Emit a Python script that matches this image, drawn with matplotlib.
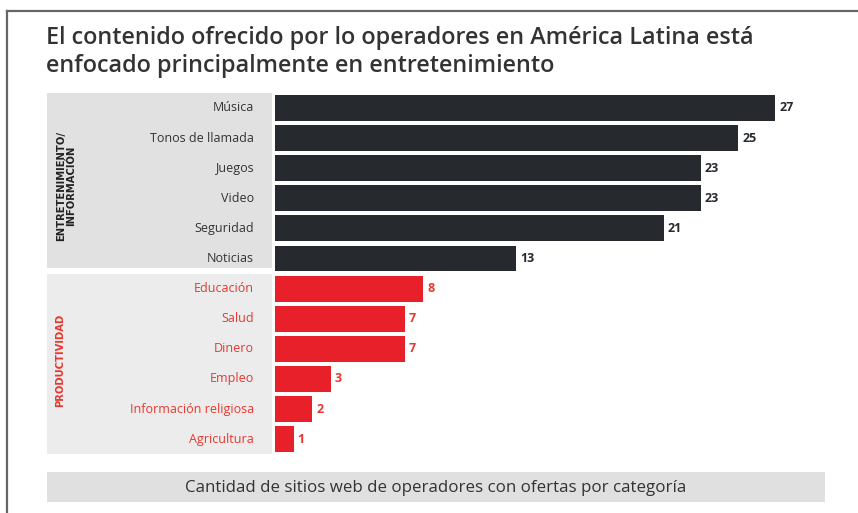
import matplotlib
matplotlib.use("Agg")
import matplotlib.pyplot as plt
from matplotlib.patches import Rectangle

# ---- data ----
ent_categories = ["Música", "Tonos de llamada", "Juegos", "Video", "Seguridad", "Noticias"]
ent_values = [27, 25, 23, 23, 21, 13]
prod_categories = ["Educación", "Salud", "Dinero", "Empleo", "Información religiosa", "Agricultura"]
prod_values = [8, 7, 7, 3, 2, 1]
group_ent_label = "ENTRETENIMIENTO/\nINFORMACIÓN"
group_prod_label = "PRODUCTIVIDAD"
title_lines = ["El contenido ofrecido por lo operadores en América Latina está",
               "enfocado principalmente en entretenimiento"]
footer = "Cantidad de sitios web de operadores con ofertas por categoría"

DARK = "#26292d"
RED = "#e8202a"
RED_TXT = "#e8372f"
TXT = "#333333"

plt.rcParams['font.family'] = ['Open Sans', 'DejaVu Sans']

W, H = 858, 513
fig = plt.figure(figsize=(W / 100, H / 100), dpi=100)
fig.patch.set_facecolor("white")

def fx(px):
    return px / W

def fy(py):
    return 1 - py / H

# frame lines (top and left)
fig.add_artist(plt.Line2D([fx(7), fx(858)], [fy(11), fy(11)], color="#666666", lw=1.6))
fig.add_artist(plt.Line2D([fx(7), fx(7)], [fy(11), fy(513)], color="#666666", lw=1.6))

# title
for line, base in zip(title_lines, [44, 72]):
    fig.text(fx(46), fy(base), line, ha="left", va="baseline", fontsize=16.8,
             fontweight="semibold", color="#333333")

categories = ent_categories + prod_categories
values = ent_values + prod_values
n = len(categories)
rows = list(range(n))
colors = [DARK] * len(ent_values) + [RED] * len(prod_values)

row_h = 30.1
top_px = 108 - row_h / 2
bot_px = top_px + n * row_h

# label panel axes (x in pixels from 47)
lax = fig.add_axes([fx(47), fy(bot_px), fx(272) - fx(47), (bot_px - top_px) / H])
lax.set_xlim(0, 225)
lax.set_ylim(n - 0.5, -0.5)
lax.axis("off")
lax.add_patch(Rectangle((0, -0.5), 225, len(ent_values) - 0.17, color="#e1e1e1", lw=0))
lax.add_patch(Rectangle((0, len(ent_values) - 0.5 + 0.02), 225, len(prod_values) - 0.02,
                        color="#ececec", lw=0))
for i, c in enumerate(categories):
    col = TXT if i < len(ent_values) else RED_TXT
    lax.text(207, i, c, ha="right", va="center", fontsize=9, color=col)
lax.text(19, (len(ent_values) - 1) / 2 + 0.1, group_ent_label, rotation=90, ha="center",
         va="center", fontsize=7.2, fontweight="bold", color="#222222", linespacing=1.05,
         family="DejaVu Sans")
lax.text(13, len(ent_values) + (len(prod_values) - 1) / 2 - 0.1, group_prod_label, rotation=90,
         ha="center", va="center", fontsize=7.2, fontweight="bold", color=RED_TXT,
         family="DejaVu Sans")

# bar axes
xmax = 30
scale = (775 - 275) / 27
ax = fig.add_axes([fx(275), fy(bot_px), xmax * scale / W, (bot_px - top_px) / H])
ax.barh(rows, values, height=0.86, color=colors)
ax.set_xlim(0, xmax)
ax.set_ylim(n - 0.5, -0.5)
ax.axis("off")
for i, v in enumerate(values):
    col = DARK if i < len(ent_values) else RED_TXT
    ax.text(v + 0.22, i, str(v), ha="left", va="center", fontsize=9, fontweight="bold", color=col)

# footer box
fig.add_artist(Rectangle((fx(47), fy(502)), fx(825) - fx(47), (502 - 472) / H,
                         transform=fig.transFigure, color="#e0e0e0", lw=0))
fig.text(fx(436), fy(488), footer, ha="center", va="center", fontsize=12.2, color="#333333")

fig.savefig("out.png", dpi=100)
